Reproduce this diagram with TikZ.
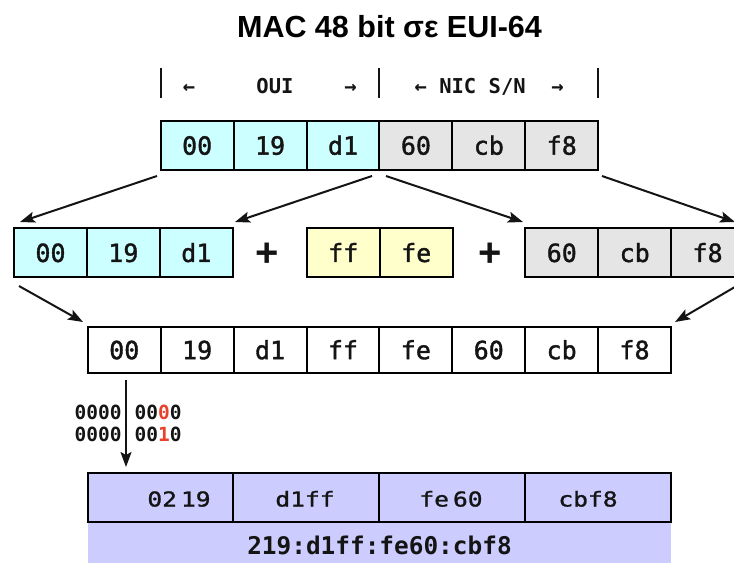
\documentclass[tikz,border=0pt]{standalone}
\usepackage{fontspec}
\usetikzlibrary{arrows.meta}
\newfontfamily\titlefont{Liberation Sans}
\newfontfamily\cellfont{DejaVu Sans Mono}
\newfontfamily\cellmid[FakeBold=1.5]{DejaVu Sans Mono}
\newfontfamily\lowmono[FakeStretch=1.2,FakeBold=1.2]{DejaVu Sans Mono}
\definecolor{cyanc}{HTML}{CCFFFF}
\definecolor{grayc}{HTML}{E5E5E5}
\definecolor{yellc}{HTML}{FFFFCC}
\definecolor{lavc}{HTML}{CCCCFF}
\definecolor{redc}{HTML}{E8412C}
\definecolor{inkc}{HTML}{141414}
\begin{document}
\begin{tikzpicture}[x=1pt,y=-1pt,
  cell/.style={draw=black, line width=2pt, minimum width=72.9pt, minimum height=48.5pt,
    inner sep=0pt, outer sep=0pt, text height=18.3pt, text depth=0pt, text=inkc,
    font=\cellmid\fontsize{25}{30}\selectfont},
  widecell/.style={draw=black, line width=2pt, fill=lavc, minimum width=145.9pt,
    minimum height=48.4pt, inner sep=0pt, outer sep=0pt},
  lowtxt/.style={anchor=base, inner sep=0pt, text=inkc, font=\lowmono\fontsize{20.5}{24}\selectfont},
  headtxt/.style={anchor=base, inner sep=0pt, text=inkc, font=\cellfont\bfseries\fontsize{20.5}{24}\selectfont},
  bintxt/.style={anchor=base west, inner sep=0pt, text=inkc, font=\cellfont\bfseries\fontsize{19.5}{23}\selectfont},
  plustxt/.style={anchor=base, inner sep=0pt, text=inkc, font=\titlefont\bfseries\fontsize{40}{44}\selectfont},
  arr/.style={line width=2pt, draw=inkc, -{Stealth[length=15pt,width=11pt,inset=3pt]}},
  bar/.style={line width=2pt, draw=inkc}]
\useasboundingbox (0,0) rectangle (734,563);

% title
\node[anchor=base, inner sep=0pt, text=black, font=\titlefont\bfseries\fontsize{30.5}{36}\selectfont]
  (title) at (389.5,37) {MAC 48 bit σε EUI-64};

% header bars
\coordinate (b1t) at (160.7,68); \coordinate (b1b) at (160.7,98);
\coordinate (b2t) at (379.3,68); \coordinate (b2b) at (379.3,98);
\coordinate (b3t) at (598.3,68); \coordinate (b3b) at (598.3,98);
\draw[bar] (b1t) -- (b1b);
\draw[bar] (b2t) -- (b2b);
\draw[bar] (b3t) -- (b3b);
\node[headtxt] (h1) at (189,93.3) {←};
\node[headtxt] (h2) at (275,93.3) {OUI};
\node[headtxt] (h3) at (350.5,93.3) {→};
\node[headtxt] (h4) at (420.8,93.3) {←};
\node[headtxt] (h5) at (482.5,93.3) {NIC S/N};
\node[headtxt] (h6) at (557.5,93.3) {→};

% top row
\node[cell, fill=cyanc] (t1) at (197.15,145.5) {00};
\node[cell, fill=cyanc] (t2) at (270.08,145.5) {19};
\node[cell, fill=cyanc] (t3) at (343.01,145.5) {d1};
\node[cell, fill=grayc] (t4) at (415.94,145.5) {60};
\node[cell, fill=grayc] (t5) at (488.87,145.5) {cb};
\node[cell, fill=grayc] (t6) at (561.8,145.5) {f8};

% middle row
\node[cell, fill=cyanc, minimum height=49pt] (m1) at (50.5,252.8) {00};
\node[cell, fill=cyanc, minimum height=49pt] (m2) at (123.4,252.8) {19};
\node[cell, fill=cyanc, minimum height=49pt] (m3) at (196.3,252.8) {d1};
\node[plustxt] (p1) at (267,266.5) {+};
\node[cell, fill=yellc, minimum height=49pt] (m4) at (343.3,252.8) {ff};
\node[cell, fill=yellc, minimum height=49pt] (m5) at (416.2,252.8) {fe};
\node[plustxt] (p2) at (490,266.5) {+};
\node[cell, fill=grayc, minimum height=49pt] (m6) at (561.8,252.8) {60};
\node[cell, fill=grayc, minimum height=49pt] (m7) at (634.7,252.8) {cb};
\node[cell, fill=grayc, minimum height=49pt] (m8) at (707.6,252.8) {f8};

% bottom row
\node[cell, fill=white, minimum height=46.6pt] (r1) at (124.25,350) {00};
\node[cell, fill=white, minimum height=46.6pt] (r2) at (197.15,350) {19};
\node[cell, fill=white, minimum height=46.6pt] (r3) at (270.05,350) {d1};
\node[cell, fill=white, minimum height=46.6pt] (r4) at (342.95,350) {ff};
\node[cell, fill=white, minimum height=46.6pt] (r5) at (415.85,350) {fe};
\node[cell, fill=white, minimum height=46.6pt] (r6) at (488.75,350) {60};
\node[cell, fill=white, minimum height=46.6pt] (r7) at (561.65,350) {cb};
\node[cell, fill=white, minimum height=46.6pt] (r8) at (634.55,350) {f8};

% arrows
\coordinate (a1s) at (157,176); \coordinate (a1e) at (20,222);
\coordinate (a2s) at (372,176); \coordinate (a2e) at (235,222);
\coordinate (a3s) at (386,176); \coordinate (a3e) at (523,222);
\coordinate (a4s) at (602,176); \coordinate (a4e) at (735,222);
\coordinate (a5s) at (19,286);  \coordinate (a5e) at (83,322);
\coordinate (a6s) at (740,284); \coordinate (a6e) at (675,322);
\coordinate (a7s) at (126,380); \coordinate (a7e) at (126,467);
\draw[arr] (a1s) -- (a1e);
\draw[arr] (a2s) -- (a2e);
\draw[arr] (a3s) -- (a3e);
\draw[arr] (a4s) -- (a4e);
\draw[arr] (a5s) -- (a5e);
\draw[arr] (a6s) -- (a6e);
\draw[arr] (a7s) -- (a7e);

% binary
\node[bintxt] (bn1) at (74.5,419.3) {0000};
\node[bintxt] (bn2) at (134.5,419.3) {00{\color{redc}0}0};
\node[bintxt] (bn3) at (74.5,441.7) {0000};
\node[bintxt] (bn4) at (134.5,441.7) {00{\color{redc}1}0};

% final block
\fill[lavc] (87.5,473.3) rectangle (671,563);
\node[widecell] (w1) at (160.45,497.5) {};
\node[widecell] (w2) at (306.35,497.5) {};
\node[widecell] (w3) at (452.25,497.5) {};
\node[widecell] (w4) at (598.15,497.5) {};
\node[lowtxt] (l1) at (179,506.5) {02\kern4pt 19};
\node[lowtxt] (l2) at (305,506.5) {d1ff};
\node[lowtxt] (l3) at (451,506.5) {fe\kern4pt 60};
\node[lowtxt] (l4) at (588,506.5) {cbf8};
\node[anchor=base, inner sep=0pt, text=inkc, font=\cellfont\bfseries\fontsize{24.4}{28}\selectfont]
  (fin) at (379.5,554.3) {219:d1ff:fe60:cbf8};
\end{tikzpicture}
\end{document}
